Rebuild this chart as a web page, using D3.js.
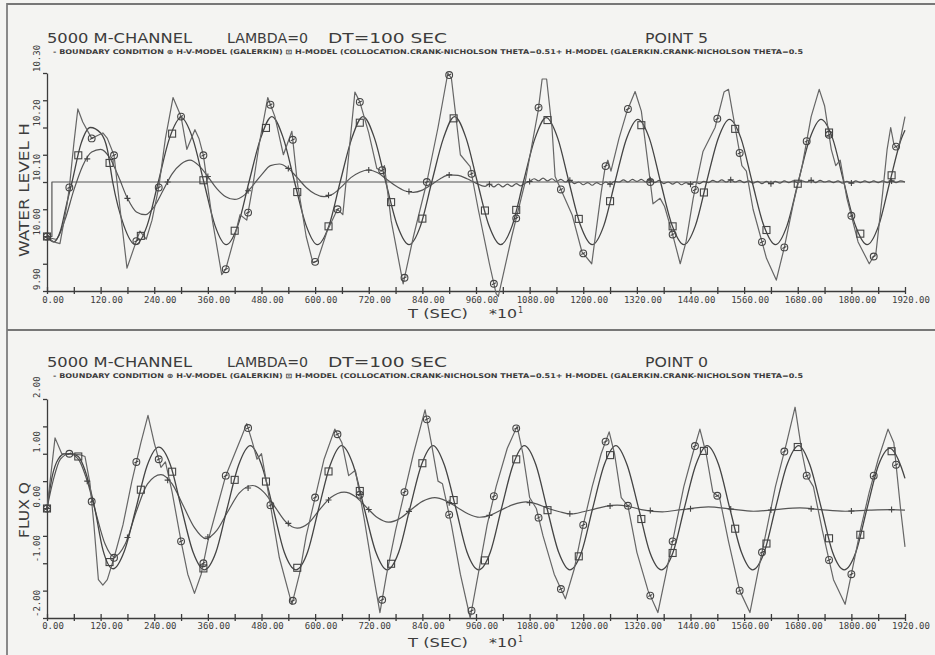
<!DOCTYPE html>
<html><head><meta charset="utf-8">
<script src="https://cdn.jsdelivr.net/npm/d3@7"></script>
<style>body{margin:0;background:#f4f4f2}svg{display:block}</style>
</head><body><svg id="c" width="935" height="655"></svg>
<script>
// ---------- DATA ----------
const xTickValues = [0,60,120,180,240,300,360,420,480,540,600,660,720,780,840,900,960,1020,1080,1140,1200,1260,1320,1380,1440,1500,1560,1620,1680,1740,1800,1860,1920];
const xTickLabels = ["0.00","120.00","240.00","360.00","480.00","600.00","720.00","840.00","960.00","1080.00","1200.00","1320.00","1440.00","1560.00","1680.00","1800.00","1920.00"];
const topYTicks = [9.90,9.95,10.00,10.05,10.10,10.15,10.20,10.25,10.30];
const topYLabels = ["9.90","10.00","10.10","10.20","10.30"];
const botYTicks = [-2,-1.5,-1,-0.5,0,0.5,1,1.5,2];
const botYLabels = ["-2.00","-1.00","0.00","1.00","2.00"];

// boundary condition (top panel)
const topBoundT = [0, 11, 11, 1920];
const topBoundH = [10.00, 10.00, 10.10, 10.10];

// H-V-model (Galerkin) - circles
const topHVT = [0,15,29,45,50,60,69,80,100,112,125,135,150,165,179,195,208,222,235,250,265,282,300,313,331,340,350,370,391,400,420,432,447,460,475,494,510,529,548,560,580,595,605,627,650,662,689,700,720,738,749,755,770,797,820,850,875,897,905,915,925,947,965,990,1005,1010,1040,1070,1099,1108,1118,1130,1137,1148,1175,1197,1219,1240,1249,1255,1262,1280,1298,1316,1330,1350,1356,1372,1382,1398,1417,1430,1446,1468,1495,1515,1525,1540,1555,1565,1580,1610,1632,1650,1670,1690,1710,1728,1740,1755,1765,1775,1790,1815,1840,1855,1870,1880,1888,1895,1905,1920];
const topHVH = [10.00,9.99,9.987,10.06,10.09,10.17,10.234,10.21,10.18,10.185,10.19,10.18,10.149,10.04,9.942,9.98,10.01,9.995,10.03,10.09,10.18,10.255,10.22,10.16,10.196,10.18,10.149,10.03,9.93,9.94,10.0,10.04,10.03,10.09,10.17,10.255,10.22,10.15,10.193,10.10,10.0,9.952,9.955,10.01,10.05,10.04,10.265,10.247,10.19,10.125,10.12,10.13,10.03,9.913,10.0,10.10,10.2,10.30,10.29,10.22,10.15,10.128,10.05,9.95,9.895,9.89,10.0,10.1,10.23,10.289,10.289,10.2,10.11,10.09,10.04,9.972,9.95,10.08,10.127,10.14,10.12,10.18,10.23,10.266,10.23,10.10,10.06,10.07,10.055,10.01,9.95,9.99,10.07,10.156,10.2,10.265,10.27,10.2,10.13,10.12,10.05,9.96,9.92,9.98,10.06,10.13,10.22,10.27,10.24,10.16,10.13,10.14,10.07,9.99,9.95,9.97,10.08,10.16,10.2,10.17,10.16,10.22];

// H-model (collocation) - squares
const topColT = [0,15,30,44,56,76,97,120,135,147,172,198,224,249,274,300,326,351,376,401,427,452,478,503,529,554,580,605,631,656,682,707,733,758,784,810,836,861,887,912,938,963,989,1015,1041,1066,1092,1117,1143,1168,1194,1220,1246,1271,1297,1322,1348,1373,1399,1425,1451,1476,1502,1527,1553,1578,1604,1630,1656,1681,1707,1732,1758,1783,1809,1835,1861,1886,1912,1920];
const topColH = [10.00,9.99,10.01,10.06,10.10,10.17,10.20,10.19,10.16,10.10,10.02,9.985,10.02,10.10,10.18,10.218,10.18,10.10,10.02,9.985,10.02,10.10,10.18,10.22,10.18,10.10,10.02,9.985,10.02,10.10,10.18,10.22,10.18,10.10,10.02,9.985,10.02,10.10,10.18,10.22,10.18,10.10,10.02,9.985,10.02,10.10,10.18,10.218,10.18,10.10,10.02,9.985,10.02,10.10,10.18,10.215,10.18,10.10,10.02,9.985,10.02,10.10,10.18,10.215,10.18,10.10,10.02,9.985,10.02,10.10,10.18,10.215,10.18,10.10,10.02,9.985,10.02,10.10,10.18,10.195];

// H-model (Galerkin, theta=0.5) - plus
const topGalT = [0,20,40,60,80,100,120,140,160,180,200,220,240,260,280,300,320,340,360,380,400,420,440,460,480,500,520,540,560,580,600,620,640,660,680,700,720,740,760,780,800,820,840,860,880,900,920,940,960,980,990,1000,1010,1020,1030,1040,1050,1060,1070,1080,1090,1100,1110,1120,1130,1140,1150,1160,1170,1180,1190,1200,1210,1220,1230,1240,1250,1260,1270,1280,1290,1300,1310,1320,1330,1340,1350,1360,1370,1380,1390,1400,1410,1420,1430,1440,1450,1460,1470,1480,1490,1500,1510,1520,1530,1540,1550,1560,1570,1580,1590,1600,1610,1620,1630,1640,1650,1660,1670,1680,1690,1700,1710,1720,1730,1740,1750,1760,1770,1780,1790,1800,1810,1820,1830,1840,1850,1860,1870,1880,1890,1900,1910,1920];
const topGalH = [10.00,9.995,10.03,10.085,10.13,10.155,10.16,10.145,10.11,10.07,10.045,10.04,10.055,10.085,10.115,10.133,10.14,10.13,10.11,10.088,10.073,10.068,10.075,10.093,10.113,10.13,10.133,10.125,10.108,10.09,10.078,10.073,10.078,10.092,10.108,10.118,10.122,10.117,10.105,10.093,10.084,10.081,10.085,10.095,10.106,10.113,10.112,10.106,10.098,10.092,10.096,10.091,10.096,10.091,10.096,10.092,10.097,10.093,10.098,10.101,10.106,10.102,10.107,10.102,10.106,10.101,10.105,10.100,10.103,10.097,10.100,10.095,10.099,10.094,10.099,10.095,10.100,10.096,10.101,10.100,10.104,10.100,10.105,10.101,10.105,10.100,10.104,10.099,10.103,10.097,10.100,10.096,10.100,10.095,10.099,10.096,10.100,10.097,10.101,10.099,10.103,10.100,10.104,10.100,10.104,10.100,10.103,10.099,10.102,10.098,10.101,10.097,10.101,10.097,10.101,10.098,10.102,10.099,10.102,10.099,10.102,10.100,10.103,10.099,10.103,10.100,10.102,10.099,10.102,10.098,10.101,10.098,10.102,10.099,10.102,10.099,10.102,10.099,10.102,10.099,10.102,10.099,10.102,10.100];

// bottom panel: flux Q at point 0
const botHVT = [0,18,33,50,75,85,96,105,115,125,135,150,170,190,210,226,240,255,265,280,300,315,330,345,360,380,400,420,435,447,460,470,480,495,520,548,565,580,600,620,644,660,675,690,710,730,745,760,780,800,820,846,860,875,885,905,925,947,965,985,1005,1030,1052,1065,1080,1095,1110,1135,1160,1180,1200,1220,1240,1258,1270,1285,1300,1320,1345,1367,1385,1405,1425,1445,1461,1475,1490,1505,1525,1550,1573,1590,1610,1630,1655,1674,1690,1700,1715,1735,1760,1786,1800,1820,1840,1860,1882,1895,1910,1920];
const botHVQ = [0.0,1.29,1.0,1.0,0.98,0.95,0.47,-0.3,-1.3,-1.4,-1.3,-0.9,-0.3,0.5,1.2,1.7,1.2,0.75,0.85,0.3,-0.6,-1.2,-1.55,-1.2,-0.6,0.0,0.6,1.0,1.3,1.55,1.2,0.9,1.0,0.3,-0.9,-1.75,-1.2,-0.5,0.2,0.9,1.45,1.2,0.6,0.7,-0.2,-1.2,-1.9,-1.2,-0.4,0.3,1.0,1.8,1.2,0.5,0.45,-0.3,-1.2,-2.0,-1.2,-0.3,0.4,1.1,1.5,1.0,0.2,0.0,-0.5,-1.2,-1.65,-1.1,-0.3,0.4,1.0,1.4,1.0,0.2,0.05,-0.8,-1.5,-1.9,-1.2,-0.4,0.4,1.0,1.45,1.0,0.3,0.2,-0.6,-1.5,-1.9,-1.2,-0.4,0.4,1.2,1.85,1.0,0.6,0.4,-0.4,-1.3,-1.75,-1.2,-0.4,0.3,0.9,1.45,1.2,0.0,-0.7];

const botColT = [0,12,25,40,55,70,85,107,125,148,173,199,224,250,276,301,327,352,378,403,429,455,480,506,531,557,583,608,634,659,685,710,736,761,787,812,838,864,889,915,940,966,992,1017,1043,1068,1094,1119,1145,1170,1196,1221,1247,1273,1298,1324,1349,1375,1401,1426,1452,1477,1503,1528,1554,1579,1605,1630,1656,1682,1707,1733,1758,1784,1810,1835,1861,1886,1912,1920];
const botColQ = [0.0,0.6,0.9,1.0,1.0,0.95,0.7,0.0,-0.75,-1.1,-0.78,0.0,0.78,1.12,0.8,0.0,-0.8,-1.12,-0.8,0.0,0.8,1.15,0.8,0.0,-0.8,-1.12,-0.8,0.0,0.8,1.15,0.8,0.0,-0.8,-1.12,-0.8,0.0,0.8,1.15,0.8,0.0,-0.8,-1.12,-0.8,0.0,0.8,1.15,0.8,0.0,-0.8,-1.12,-0.8,0.0,0.8,1.15,0.8,0.0,-0.8,-1.12,-0.8,0.0,0.8,1.15,0.8,0.0,-0.8,-1.12,-0.8,0.0,0.8,1.15,0.8,0.0,-0.8,-1.12,-0.8,0.0,0.8,1.1,0.75,0.55];

const botGalT = [0,15,30,50,70,90,110,130,150,175,200,225,255,280,305,330,355,380,405,430,460,485,510,535,560,585,610,635,665,690,715,740,764,790,815,840,868,893,918,943,968,993,1018,1043,1072,1097,1122,1147,1172,1200,1225,1250,1276,1300,1330,1377,1420,1480,1530,1581,1630,1685,1730,1786,1840,1890,1920];
const botGalQ = [0.0,0.55,0.9,1.0,0.9,0.5,-0.1,-0.65,-0.88,-0.65,-0.05,0.45,0.62,0.45,0.05,-0.35,-0.55,-0.4,-0.05,0.28,0.42,0.3,0.03,-0.25,-0.36,-0.27,-0.02,0.2,0.3,0.22,0.02,-0.17,-0.25,-0.18,-0.02,0.13,0.2,0.14,0.02,-0.1,-0.16,-0.12,-0.02,0.07,0.12,0.08,0.0,-0.06,-0.1,-0.06,-0.01,0.04,0.06,0.04,-0.02,-0.06,-0.02,0.03,-0.01,-0.05,-0.02,0.01,-0.02,-0.05,-0.03,-0.02,-0.03];

// marker sampling (time units between plotted symbols)
const circleEvery = 50, squareEvery = 70, plusEvery = 90;

// ---------- DRAWING ----------
const svg = d3.select("#c");
const INK = "#3c3c3c";
const FONT = "'DejaVu Sans', 'Liberation Sans', sans-serif";

// frame
svg.append("line").attr("x1",7).attr("x2",7).attr("y1",3).attr("y2",655).attr("stroke","#666").attr("stroke-width",1.5);
svg.append("line").attr("x1",7).attr("x2",935).attr("y1",4).attr("y2",4).attr("stroke","#777").attr("stroke-width",2);
svg.append("line").attr("x1",7).attr("x2",935).attr("y1",330).attr("y2",330).attr("stroke","#777").attr("stroke-width",2);

const x = d3.scaleLinear().domain([0,1920]).range([47,905]);

function interp(T,V,t){
  const i = d3.bisectRight(T,t);
  if(i<=0) return V[0];
  if(i>=T.length) return V[V.length-1];
  const t0=T[i-1], t1=T[i];
  if(t1===t0) return V[i];
  return V[i-1]+(V[i]-V[i-1])*(t-t0)/(t1-t0);
}

function panel(cfg){
  const g = svg.append("g");
  const y = d3.scaleLinear().domain(cfg.yDomain).range(cfg.yRange);
  // titles
  const tt = g.append("g").attr("font-family",FONT).attr("fill",INK).attr("font-size",14);
  tt.append("text").attr("x",47).attr("y",cfg.titleY).attr("textLength",145).attr("lengthAdjust","spacingAndGlyphs").text("5000 M-CHANNEL");
  tt.append("text").attr("x",227).attr("y",cfg.titleY).attr("textLength",81).attr("lengthAdjust","spacingAndGlyphs").text("LAMBDA=0");
  tt.append("text").attr("x",328).attr("y",cfg.titleY).attr("textLength",119).attr("lengthAdjust","spacingAndGlyphs").text("DT=100 SEC");
  tt.append("text").attr("x",645).attr("y",cfg.titleY).attr("textLength",63).attr("lengthAdjust","spacingAndGlyphs").text(cfg.point);
  // legend
  g.append("text").attr("x",53).attr("y",cfg.legendY).attr("font-family",FONT).attr("font-size",6.5).attr("font-weight","bold")
    .attr("fill",INK).attr("textLength",750).attr("lengthAdjust","spacingAndGlyphs")
    .text("- BOUNDARY CONDITION   \u2295 H-V-MODEL (GALERKIN)   \u22A1 H-MODEL (COLLOCATION.CRANK-NICHOLSON THETA=0.51+ H-MODEL (GALERKIN.CRANK-NICHOLSON THETA=0.5");

  // axes
  const y0 = cfg.yRange[0];
  const xa = g.append("g").attr("transform",`translate(0,${y0})`)
    .call(d3.axisBottom(x).tickValues(xTickValues).tickSizeOuter(0).tickFormat(""));
  xa.select(".domain").attr("stroke",INK).attr("stroke-width",1.3);
  xa.selectAll(".tick line").attr("y1",-4).attr("y2",3).attr("stroke",INK).attr("stroke-width",1.3);
  g.append("g").selectAll("text").data(xTickLabels).join("text")
    .attr("x",(d,i)=>x(i*120)+6).attr("y",y0+cfg.xLabelDy).attr("text-anchor","middle")
    .attr("font-family","'DejaVu Sans Mono', monospace").attr("font-size",9).attr("fill",INK)
    .text(d=>d);
  const ya = g.append("g").attr("transform","translate(47,0)")
    .call(d3.axisLeft(y).tickValues(cfg.yTicks).tickSizeInner(4).tickSizeOuter(0).tickFormat(""));
  ya.select(".domain").attr("stroke",INK).attr("stroke-width",1.3);
  ya.selectAll(".tick line").attr("stroke",INK).attr("stroke-width",1.3);
  g.append("g").selectAll("text").data(cfg.yLabels).join("text")
    .attr("transform",(d,i)=>`translate(40,${y(cfg.yLabelVals[i])-1}) rotate(-90)`)
    .attr("font-family","'DejaVu Sans Mono', monospace").attr("font-size",9).attr("fill",INK)
    .text(d=>d);
  // axis titles
  g.append("text").attr("transform",`translate(29,${cfg.yTitleY}) rotate(-90)`).attr("text-anchor","middle")
    .attr("font-family",FONT).attr("font-size",14).attr("fill",INK)
    .attr("textLength",cfg.yTitleLen).attr("lengthAdjust","spacingAndGlyphs").text(cfg.yTitle);
  g.append("text").attr("x",408).attr("y",cfg.tTitleY).attr("font-family",FONT).attr("font-size",13).attr("fill",INK)
    .attr("textLength",60).attr("lengthAdjust","spacingAndGlyphs").text("T (SEC)");
  g.append("text").attr("x",489).attr("y",cfg.tTitleY).attr("font-family",FONT).attr("font-size",13).attr("fill",INK)
    .attr("textLength",28).attr("lengthAdjust","spacingAndGlyphs").text("*10");
  g.append("text").attr("x",518).attr("y",cfg.tTitleY-5).attr("font-family",FONT).attr("font-size",8).attr("fill",INK).text("1");

  // lines
  const lineLin = d3.line().x(d=>x(d[0])).y(d=>y(d[1]));
  const lineSm = d3.line().x(d=>x(d[0])).y(d=>y(d[1])).curve(d3.curveMonotoneX);
  const zip = (T,V)=>T.map((t,i)=>[t,V[i]]);
  const plot = g.append("g").attr("fill","none").attr("stroke-linejoin","round");
  if(cfg.bound){
    plot.append("path").attr("d",lineLin(zip(cfg.bound[0],cfg.bound[1]))).attr("stroke","#555").attr("stroke-width",1.2);
  }
  plot.append("path").attr("d",lineSm(zip(cfg.gal[0],cfg.gal[1]))).attr("stroke","#555").attr("stroke-width",1.2);
  plot.append("path").attr("d",lineSm(zip(cfg.col[0],cfg.col[1]))).attr("stroke","#444").attr("stroke-width",1.3);
  plot.append("path").attr("d",lineLin(zip(cfg.hv[0],cfg.hv[1]))).attr("stroke","#666").attr("stroke-width",1.2);

  // markers
  const mk = g.append("g").attr("fill","none").attr("stroke","#444").attr("stroke-width",1.1);
  const cT = d3.range(0,1921,circleEvery);
  mk.selectAll("circle").data(cT).join("circle")
    .attr("cx",t=>x(t)).attr("cy",t=>y(interp(cfg.hv[0],cfg.hv[1],t))).attr("r",3.4);
  mk.selectAll("line.c").data(cT).join("line").attr("class","c")
    .attr("x1",t=>x(t)-2).attr("x2",t=>x(t)+2)
    .attr("y1",t=>y(interp(cfg.hv[0],cfg.hv[1],t))+1).attr("y2",t=>y(interp(cfg.hv[0],cfg.hv[1],t))-1);
  const sT = d3.range(0,1921,squareEvery);
  mk.selectAll("rect").data(sT).join("rect")
    .attr("x",t=>x(t)-3.5).attr("y",t=>y(interp(cfg.col[0],cfg.col[1],t))-3.5).attr("width",7).attr("height",7);
  const pT = d3.range(0,1921,plusEvery);
  mk.selectAll("path.p").data(pT).join("path").attr("class","p")
    .attr("d",t=>{const px=x(t), py=y(interp(cfg.gal[0],cfg.gal[1],t)); return `M${px-3},${py}H${px+3}M${px},${py-3}V${py+3}`;});
}

panel({yDomain:[9.9,10.3], yRange:[291,73], yTicks:topYTicks, yLabels:topYLabels, yLabelVals:[9.9,10.0,10.1,10.2,10.3],
  titleY:43, legendY:54, point:"POINT 5", xLabelDy:12, tTitleY:318, yTitle:"WATER LEVEL H", yTitleY:190, yTitleLen:134,
  bound:[topBoundT,topBoundH], hv:[topHVT,topHVH], col:[topColT,topColH], gal:[topGalT,topGalH]});
panel({yDomain:[-2,2], yRange:[618,399], yTicks:botYTicks, yLabels:botYLabels, yLabelVals:[-2,-1,0,1,2],
  titleY:367, legendY:378, point:"POINT 0", xLabelDy:11, tTitleY:647, yTitle:"FLUX Q", yTitleY:510, yTitleLen:56,
  bound:null, hv:[botHVT,botHVQ], col:[botColT,botColQ], gal:[botGalT,botGalQ]});
</script>
</body></html>
